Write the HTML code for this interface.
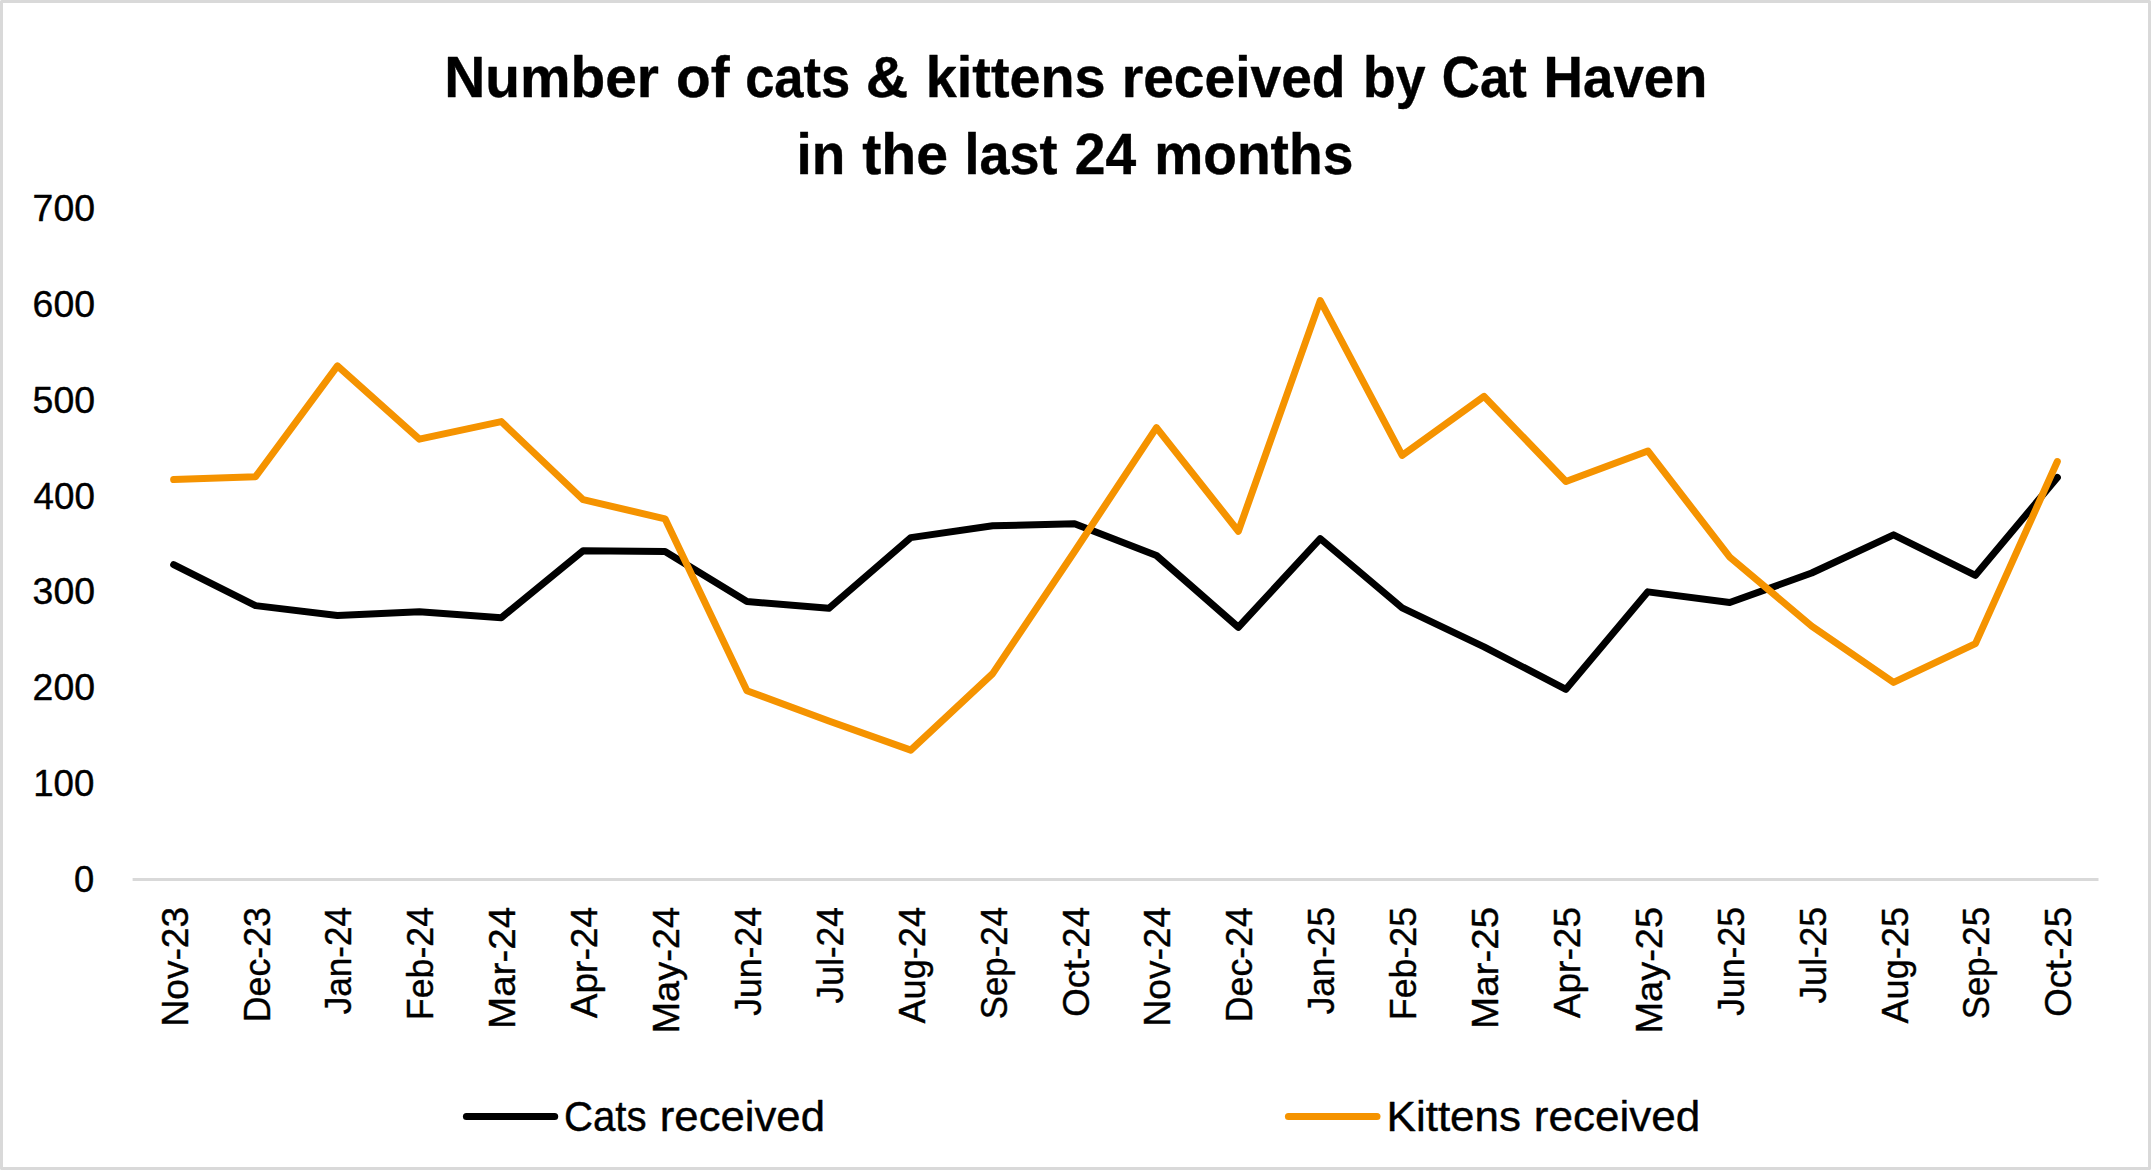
<!DOCTYPE html>
<html lang="en"><head><meta charset="utf-8"><title>Number of cats &amp; kittens received by Cat Haven in the last 24 months</title>
<style>html,body{margin:0;padding:0;background:#fff;}body{width:2151px;height:1170px;overflow:hidden;font-family:"Liberation Sans", sans-serif;}svg{display:block;position:absolute;left:0;top:0;}</style>
</head><body>
<svg width="2151" height="1170" viewBox="0 0 2151 1170" font-family='"Liberation Sans", sans-serif' fill="#000">
<rect x="0" y="0" width="2151" height="1170" fill="#fff"/>
<rect x="1.5" y="1.5" width="2148" height="1167" fill="none" stroke="#D9D9D9" stroke-width="3" stroke-linejoin="round"/>
<rect x="132.6" y="878" width="1965.9" height="3" fill="#D9D9D9"/>
<g fill="none" stroke-width="7" stroke-linecap="round" stroke-linejoin="round">
<polyline stroke="#000" points="173.65,564.7 255.55,605.6 337.45,615.55 419.35,611.75 501.25,617.75 583.15,550.7 665.05,551.6 746.95,601.5 828.85,608.35 910.75,537.6 992.65,525.8 1074.55,523.7 1156.45,555.5 1238.35,627.25 1320.25,538.65 1402.15,607.9 1484.05,646.8 1565.95,689.35 1647.85,591.85 1729.75,602.55 1811.65,573 1893.55,534.85 1975.45,575.35 2057.35,477.5"/>
<polyline stroke="#F59300" points="173.65,479.6 255.55,476.7 337.45,365.85 419.35,439.15 501.25,421.55 583.15,499.7 665.05,518.8 746.95,690.7 828.85,721 910.75,750.15 992.65,673.6 1074.55,551.5 1156.45,427.65 1238.35,531.25 1320.25,300.65 1402.15,455.35 1484.05,396.35 1565.95,481.45 1647.85,450.95 1729.75,557.1 1811.65,626.1 1893.55,682.45 1975.45,643.6 2057.35,461.55"/>
<line stroke="#000" x1="466.4" y1="1116.5" x2="554.7" y2="1116.5"/>
<line stroke="#F59300" x1="1288.4" y1="1116.5" x2="1377" y2="1116.5"/>
</g>
<g stroke="#000" stroke-width="0.4" stroke-linejoin="round">
<text y="97.2" font-size="56.8" font-weight="700"><tspan x="444.2" textLength="214.81" lengthAdjust="spacingAndGlyphs">Number</tspan> <tspan x="676" textLength="53.61" lengthAdjust="spacingAndGlyphs">of</tspan> <tspan x="745.15" textLength="105.01" lengthAdjust="spacingAndGlyphs">cats</tspan> <tspan x="865.83" textLength="42.53" lengthAdjust="spacingAndGlyphs">&amp;</tspan> <tspan x="925.75" textLength="179.91" lengthAdjust="spacingAndGlyphs">kittens</tspan> <tspan x="1121.69" textLength="223.8" lengthAdjust="spacingAndGlyphs">received</tspan> <tspan x="1363.07" textLength="62.54" lengthAdjust="spacingAndGlyphs">by</tspan> <tspan x="1441.85" textLength="84.87" lengthAdjust="spacingAndGlyphs">Cat</tspan> <tspan x="1543.62" textLength="163.87" lengthAdjust="spacingAndGlyphs">Haven</tspan></text>
<text y="174.3" font-size="56.8" font-weight="700"><tspan x="796.6" textLength="48.81" lengthAdjust="spacingAndGlyphs">in</tspan> <tspan x="862.3" textLength="85.8" lengthAdjust="spacingAndGlyphs">the</tspan> <tspan x="964.55" textLength="92.86" lengthAdjust="spacingAndGlyphs">last</tspan> <tspan x="1074.73" textLength="61.37" lengthAdjust="spacingAndGlyphs">24</tspan> <tspan x="1154.19" textLength="199.16" lengthAdjust="spacingAndGlyphs">months</tspan></text>
<text x="74.11" y="891.7" font-size="36.6" textLength="20.23" lengthAdjust="spacingAndGlyphs">0</text>
<text x="33.2" y="795.9" font-size="36.6" textLength="61.15" lengthAdjust="spacingAndGlyphs">100</text>
<text x="32.58" y="700.1" font-size="36.6" textLength="62.4" lengthAdjust="spacingAndGlyphs">200</text>
<text x="32.58" y="604.3" font-size="36.6" textLength="62.4" lengthAdjust="spacingAndGlyphs">300</text>
<text x="33.6" y="508.5" font-size="36.6" textLength="61.35" lengthAdjust="spacingAndGlyphs">400</text>
<text x="32.58" y="412.7" font-size="36.6" textLength="62.4" lengthAdjust="spacingAndGlyphs">500</text>
<text x="32.58" y="316.9" font-size="36.6" textLength="62.4" lengthAdjust="spacingAndGlyphs">600</text>
<text x="32.58" y="221.1" font-size="36.6" textLength="62.4" lengthAdjust="spacingAndGlyphs">700</text>
<text transform="translate(187.65 907.8) rotate(-90)" x="-118.67" y="0" font-size="37.5" textLength="119.51" lengthAdjust="spacingAndGlyphs">Nov-23</text>
<text transform="translate(269.55 907.8) rotate(-90)" x="-114.56" y="0" font-size="37.5" textLength="115.38" lengthAdjust="spacingAndGlyphs">Dec-23</text>
<text transform="translate(351.45 907.8) rotate(-90)" x="-106.5" y="0" font-size="37.5" textLength="107.3" lengthAdjust="spacingAndGlyphs">Jan-24</text>
<text transform="translate(433.35 907.8) rotate(-90)" x="-112.36" y="0" font-size="37.5" textLength="113.17" lengthAdjust="spacingAndGlyphs">Feb-24</text>
<text transform="translate(515.25 907.8) rotate(-90)" x="-121.18" y="0" font-size="37.5" textLength="122.06" lengthAdjust="spacingAndGlyphs">Mar-24</text>
<text transform="translate(597.15 907.8) rotate(-90)" x="-110.5" y="0" font-size="37.5" textLength="111.35" lengthAdjust="spacingAndGlyphs">Apr-24</text>
<text transform="translate(679.05 907.8) rotate(-90)" x="-125.74" y="0" font-size="37.5" textLength="126.6" lengthAdjust="spacingAndGlyphs">May-24</text>
<text transform="translate(760.95 907.8) rotate(-90)" x="-108" y="0" font-size="37.5" textLength="108.81" lengthAdjust="spacingAndGlyphs">Jun-24</text>
<text transform="translate(842.85 907.8) rotate(-90)" x="-95.7" y="0" font-size="37.5" textLength="96.51" lengthAdjust="spacingAndGlyphs">Jul-24</text>
<text transform="translate(924.75 907.8) rotate(-90)" x="-115.7" y="0" font-size="37.5" textLength="116.52" lengthAdjust="spacingAndGlyphs">Aug-24</text>
<text transform="translate(1006.65 907.8) rotate(-90)" x="-111.43" y="0" font-size="37.5" textLength="112.22" lengthAdjust="spacingAndGlyphs">Sep-24</text>
<text transform="translate(1088.55 907.8) rotate(-90)" x="-108.98" y="0" font-size="37.5" textLength="109.81" lengthAdjust="spacingAndGlyphs">Oct-24</text>
<text transform="translate(1170.45 907.8) rotate(-90)" x="-118.67" y="0" font-size="37.5" textLength="119.51" lengthAdjust="spacingAndGlyphs">Nov-24</text>
<text transform="translate(1252.35 907.8) rotate(-90)" x="-114.56" y="0" font-size="37.5" textLength="115.38" lengthAdjust="spacingAndGlyphs">Dec-24</text>
<text transform="translate(1334.25 907.8) rotate(-90)" x="-106.5" y="0" font-size="37.5" textLength="107.3" lengthAdjust="spacingAndGlyphs">Jan-25</text>
<text transform="translate(1416.15 907.8) rotate(-90)" x="-112.36" y="0" font-size="37.5" textLength="113.17" lengthAdjust="spacingAndGlyphs">Feb-25</text>
<text transform="translate(1498.05 907.8) rotate(-90)" x="-121.18" y="0" font-size="37.5" textLength="122.06" lengthAdjust="spacingAndGlyphs">Mar-25</text>
<text transform="translate(1579.95 907.8) rotate(-90)" x="-110.5" y="0" font-size="37.5" textLength="111.35" lengthAdjust="spacingAndGlyphs">Apr-25</text>
<text transform="translate(1661.85 907.8) rotate(-90)" x="-125.74" y="0" font-size="37.5" textLength="126.6" lengthAdjust="spacingAndGlyphs">May-25</text>
<text transform="translate(1743.75 907.8) rotate(-90)" x="-108" y="0" font-size="37.5" textLength="108.81" lengthAdjust="spacingAndGlyphs">Jun-25</text>
<text transform="translate(1825.65 907.8) rotate(-90)" x="-95.7" y="0" font-size="37.5" textLength="96.51" lengthAdjust="spacingAndGlyphs">Jul-25</text>
<text transform="translate(1907.55 907.8) rotate(-90)" x="-115.7" y="0" font-size="37.5" textLength="116.52" lengthAdjust="spacingAndGlyphs">Aug-25</text>
<text transform="translate(1989.45 907.8) rotate(-90)" x="-111.43" y="0" font-size="37.5" textLength="112.22" lengthAdjust="spacingAndGlyphs">Sep-25</text>
<text transform="translate(2071.35 907.8) rotate(-90)" x="-108.98" y="0" font-size="37.5" textLength="109.81" lengthAdjust="spacingAndGlyphs">Oct-25</text>
<text y="1130.8" font-size="42"><tspan x="563.89" textLength="82.67" lengthAdjust="spacingAndGlyphs">Cats</tspan> <tspan x="659.82" textLength="165.13" lengthAdjust="spacingAndGlyphs">received</tspan></text>
<text y="1130.8" font-size="42"><tspan x="1386.56" textLength="134.49" lengthAdjust="spacingAndGlyphs">Kittens</tspan> <tspan x="1533.8" textLength="166.57" lengthAdjust="spacingAndGlyphs">received</tspan></text>
</g>
</svg>
</body></html>
